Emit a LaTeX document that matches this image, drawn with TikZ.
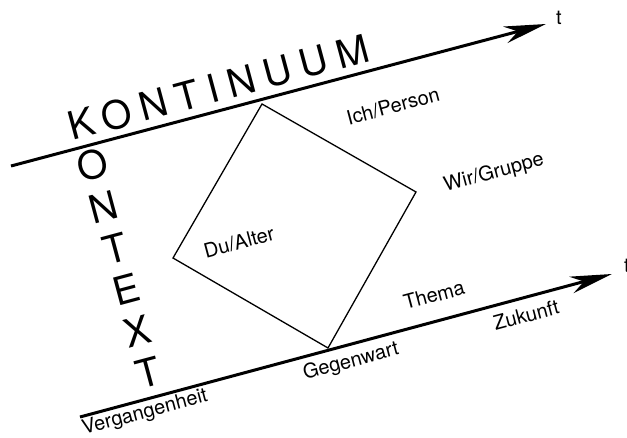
\documentclass[tikz,border=0pt]{standalone}
\usepackage{fontspec}
\setmainfont{TeX Gyre Heros}
\usetikzlibrary{arrows.meta, positioning}
\tikzset{
  timearrow/.style={-{Stealth[length=42pt, width=17pt, inset=13pt]}, line width=3pt},
  bigletter/.style={inner sep=0pt, rotate=15, font=\fontsize{39}{39}\selectfont},
  smalltext/.style={inner sep=0pt, font=\fontsize{20}{20}\selectfont},
}
\begin{document}
\begin{tikzpicture}[x=1pt, y=1pt]
  \useasboundingbox (0,0) rectangle (627,437);

  % the two time axes
  \coordinate (a1) at (11,271);
  \coordinate (a2) at (546,413);
  \coordinate (b1) at (80,20);
  \coordinate (b2) at (612,163);
  \draw[timearrow] (a1) -- (a2);
  \draw[timearrow] (b1) -- (b2);
  \node[smalltext] (t1) at (559,419) {t};
  \node[smalltext] (t2) at (627,171) {t};

  % the square
  \coordinate (c1) at (262,333);
  \coordinate (c2) at (416,245);
  \coordinate (c3) at (328,89);
  \coordinate (c4) at (173,179);
  \draw[line width=1.3pt] (c1) -- (c2) -- (c3) -- (c4) -- cycle;

  \node[smalltext, rotate=15] (ich) at (393,331) {Ich/Person};
  \node[smalltext, rotate=15] (wir) at (494,264) {Wir/Gruppe};
  \node[smalltext, rotate=15] (du) at (239,195) {Du/Alter};
  \node[smalltext, rotate=15] (thema) at (434,142) {Thema};
  \node[smalltext, rotate=15] (zukunft) at (526,122) {Zukunft};
  \node[smalltext, rotate=15] (gegenwart) at (351,75) {Gegenwart};
  \node[smalltext, rotate=15] (vergangenheit) at (145,24) {Vergangenheit};

  % KONTINUUM along the top axis, KONTEXT down from its K
  \node[bigletter, anchor=west] (kontinuum) at (69,310) {\addfontfeature{LetterSpace=24}KONTINUUM};
  \path (kontinuum.west) ++(15:13) coordinate (k);
  \foreach \ch [count=\n] in {O,N,T,E,X,T}
    \path (k) ++(-75:{\n*43}) node[bigletter] (k\n) {\ch};
\end{tikzpicture}
\end{document}
